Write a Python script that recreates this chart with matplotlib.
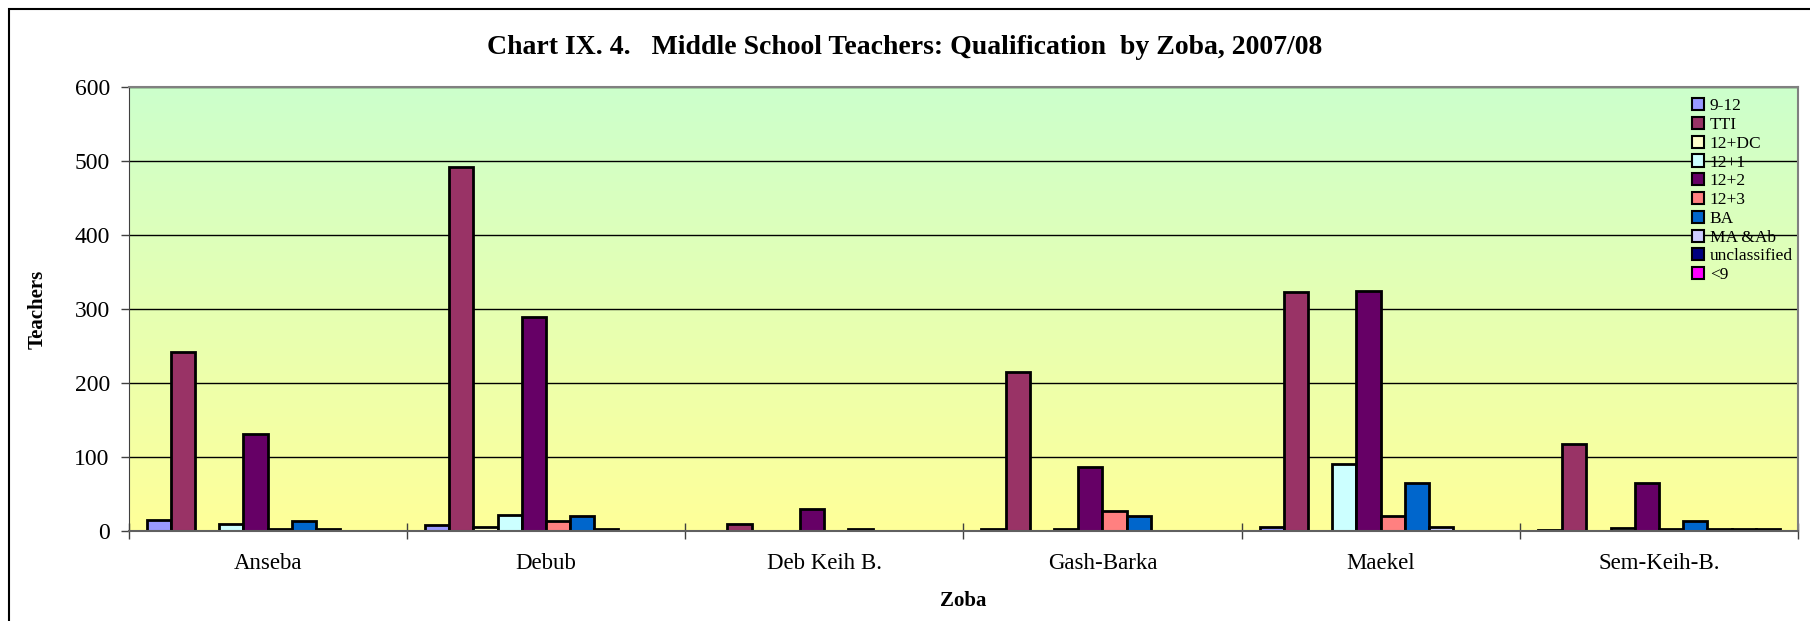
import matplotlib.pyplot as plt
import numpy as np
from matplotlib.patches import Rectangle

# middle school teachers by qualification and zoba, 2007/08
zobas = ['Anseba', 'Debub', 'Deb Keih B.', 'Gash-Barka', 'Maekel', 'Sem-Keih-B.']
quals = ['9-12', 'TTI', '12+DC', '12+1', '12+2', '12+3', 'BA', 'MA &Ab',
         'unclassified', '<9']

q9_12 = [15, 8, 0, 2, 5, 1]
tti = [242, 492, 10, 215, 323, 117]
q12dc = [0, 5, 0, 0, 0, 0]
q12p1 = [9, 21, 0, 3, 90, 4]
q12p2 = [131, 289, 29, 87, 324, 65]
q12p3 = [3, 14, 0, 27, 20, 2]
ba = [14, 20, 2, 20, 65, 14]
ma = [3, 2, 0, 0, 5, 2]
unclass = [0, 0, 0, 0, 0, 3]
below9 = [0, 0, 0, 0, 0, 2]

series = [q9_12, tti, q12dc, q12p1, q12p2, q12p3, ba, ma, unclass, below9]
colors = ['#9999FF', '#993366', '#FFFFCC', '#CCFFFF', '#660066', '#FF8080',
          '#0066CC', '#CCCCFF', '#000080', '#FF00FF']

plt.rcParams['font.family'] = ['Liberation Serif', 'DejaVu Serif']

fig = plt.figure(figsize=(18.1, 6.21), dpi=100)
ax = fig.add_axes([0.071, 0.145, 0.9224, 0.715])

# outer chart frame (runs off the right and bottom edges)
fig.patches.append(Rectangle((9 / 1810, -0.05), 1.1, 1 - 9 / 621 + 0.05,
                             transform=fig.transFigure, fill=False,
                             edgecolor='black', linewidth=1.5, zorder=0))

ngroup = len(zobas)
nser = len(series)
gap = 1.5
bw = 1.0 / (nser + gap)
x = np.arange(ngroup) + 0.5

ax.set_xlim(0, ngroup)
ax.set_ylim(0, 600)

# green-to-yellow plot background
grad = np.linspace(0, 1, 256)[:, None]
top = np.array([204, 255, 204]) / 255.0
bot = np.array([255, 255, 153]) / 255.0
img = top[None, None, :] * (1 - grad[:, :, None]) + bot[None, None, :] * grad[:, :, None]
ax.imshow(img, extent=[0, ngroup, 0, 600], aspect='auto', zorder=0,
          interpolation='bilinear')

for i, (vals, c, q) in enumerate(zip(series, colors, quals)):
    pos = x - 0.5 + bw * (gap / 2 + i + 0.5)
    lw = [2.0 if v > 0 else 0 for v in vals]
    ax.bar(pos, vals, width=bw, color=c, edgecolor='black', linewidth=lw,
           label=q, zorder=2)

ax.set_yticks(np.arange(0, 601, 100))
ax.yaxis.grid(True, color='black', linewidth=1.0, zorder=1)
ax.set_axisbelow(True)

ax.set_xticks(x)
ax.set_xticklabels(zobas)
ax.set_xticks(np.arange(ngroup + 1), minor=True)
ax.tick_params(axis='x', which='major', length=0, pad=16, labelsize=16.5)
ax.tick_params(axis='x', which='minor', length=11.5, direction='inout',
               width=1, color='#404040')
ax.tick_params(axis='y', length=6, width=1, pad=7.5, labelsize=17,
               color='#404040')

for side in ['top', 'right']:
    ax.spines[side].set_color('#808080')
    ax.spines[side].set_linewidth(1.5)
ax.spines['left'].set_color('#404040')
ax.spines['bottom'].set_color('#606060')
ax.spines['bottom'].set_linewidth(1.5)

ax.set_xlabel('Zoba', fontsize=15, fontweight='bold', va='center')
ax.xaxis.set_label_coords(0.5, -0.158)
ax.set_ylabel('Teachers', fontsize=15, fontweight='bold', va='center')
ax.yaxis.set_label_coords(-0.0545, 0.5)

fig.text(0.5, 1 - 47.5 / 621,
         'Chart IX. 4.   Middle School Teachers: Qualification  by Zoba, 2007/08',
         ha='center', va='center', fontsize=20, fontweight='bold')

leg = ax.legend(loc='upper right', bbox_to_anchor=(1798 / 1810, 1 - 93 / 621),
                bbox_transform=fig.transFigure, fontsize=12.5, frameon=True,
                fancybox=False, edgecolor='black', framealpha=0,
                handlelength=0.7, handleheight=0.7, handletextpad=0.3,
                labelspacing=0.15, borderpad=0.3, borderaxespad=0)
leg.get_frame().set_linewidth(1.0)
for h in leg.legend_handles:
    h.set_linewidth(1.5)

fig.savefig('out.png', dpi=100)
